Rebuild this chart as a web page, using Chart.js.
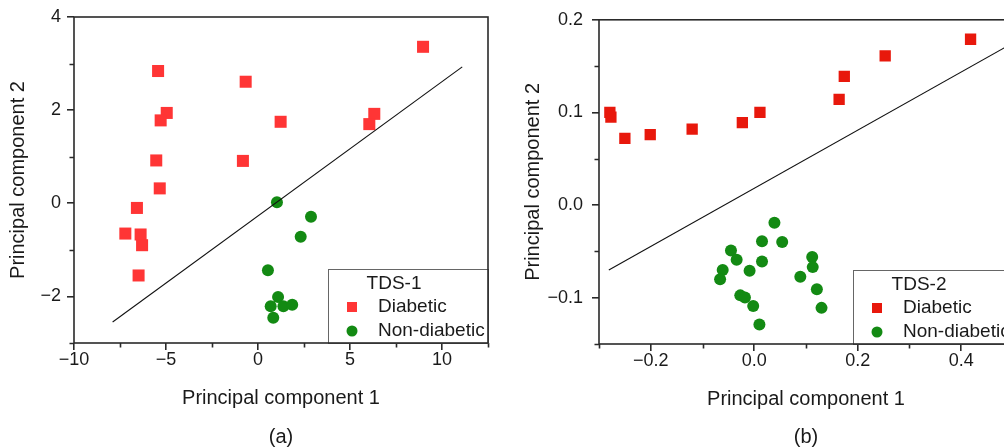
<!DOCTYPE html>
<html>
<head>
<meta charset="utf-8">
<script src="https://cdn.jsdelivr.net/npm/chart.js@4.4.1/dist/chart.umd.min.js"></script>
<style>
  html, body { margin:0; padding:0; width:1004px; height:447px; overflow:hidden; background:#fff; }
  .panel { position:absolute; top:0; }
  .cap { position:absolute; font-family:"Liberation Sans", Arial, sans-serif; font-size:20px; color:#1a1a1a; transform:translate(-50%,-50%); white-space:nowrap; }
</style>
</head>
<body>
<canvas id="ca" class="panel" width="510" height="447" style="left:0px;"></canvas>
<canvas id="cb" class="panel" width="520" height="447" style="left:520px;"></canvas>
<div class="cap" style="left:281px; top:436px;">(a)</div>
<div class="cap" style="left:806px; top:436px;">(b)</div>
<script>
// ---------- data: panel (a) TDS-1 ----------
const A_DIAB_X = [8.97, -5.43, -0.67, -4.96, -5.29, 1.23, 6.32, 6.05, -5.53, -0.82, -5.34, -6.58, -7.21, -6.38, -6.30, -6.49];
const A_DIAB_Y = [3.36, 2.84, 2.61, 1.94, 1.78, 1.75, 1.92, 1.70, 0.92, 0.91, 0.32, -0.10, -0.65, -0.67, -0.90, -1.55];
const A_NON_X = [1.03, 2.88, 2.32, 0.54, 1.09, 0.69, 1.38, 1.86, 0.83];
const A_NON_Y = [0.02, -0.29, -0.72, -1.44, -2.01, -2.21, -2.21, -2.18, -2.46];
const A_LINE_X = [-7.9, 11.1];
const A_LINE_Y = [-2.55, 2.93];
const A_X_TICKS = [-10, -5, 0, 5, 10];
const A_X_MINOR = [-7.5, -2.5, 2.5, 7.5, 12.5];
const A_Y_TICKS = [-2, 0, 2, 4];
const A_Y_MINOR = [-3, -1, 1, 3];

// ---------- data: panel (b) TDS-2 ----------
const B_DIAB_X = [-0.279, -0.277, -0.250, -0.201, -0.120, -0.023, 0.011, 0.164, 0.174, 0.253, 0.418];
const B_DIAB_Y = [0.100, 0.095, 0.072, 0.076, 0.082, 0.089, 0.100, 0.114, 0.139, 0.161, 0.179];
const B_NON_X = [0.039, 0.015, 0.054, -0.045, -0.034, 0.015, 0.112, 0.113, -0.061, -0.066, -0.009, 0.089, 0.121, -0.027, -0.018, -0.002, 0.130, 0.010];
const B_NON_Y = [-0.019, -0.039, -0.040, -0.049, -0.059, -0.061, -0.056, -0.067, -0.070, -0.080, -0.071, -0.0775, -0.091, -0.0975, -0.0997, -0.109, -0.111, -0.129];
const B_LINE_X = [-0.281, 0.5];
const B_LINE_Y = [-0.070, 0.175];
const B_X_TICKS = [-0.2, 0.0, 0.2, 0.4];
const B_X_MINOR = [-0.3, -0.1, 0.1, 0.3, 0.5];
const B_Y_TICKS = [-0.1, 0.0, 0.1, 0.2];
const B_Y_MINOR = [-0.15, -0.05, 0.05, 0.15];

const SERIES_NAMES = ['Diabetic', 'Non-diabetic'];

const FONT = '"Liberation Sans", Arial, sans-serif';
const INK = '#1a1a1a';
const GREEN = '#138a13';

const pts = (xs, ys) => xs.map((x, i) => ({x, y: ys[i]}));
const fmtMinus = s => s.replace('-', '\u2212');

// box + minor ticks + inset legend
const framePlugin = {
  id: 'frame',
  afterDraw(chart, args, o) {
    const {ctx, chartArea: a, scales} = chart;
    ctx.save();
    ctx.strokeStyle = '#2a2a2a';
    ctx.lineWidth = 1.6;
    // minor ticks
    ctx.beginPath();
    o.xMinor.forEach(v => {
      const px = Math.round(scales.x.getPixelForValue(v)) + 0.5;
      ctx.moveTo(px, a.bottom); ctx.lineTo(px, a.bottom + 4.5);
    });
    o.yMinor.forEach(v => {
      const py = Math.round(scales.y.getPixelForValue(v)) + 0.5;
      ctx.moveTo(a.left, py); ctx.lineTo(a.left - 4.5, py);
    });
    ctx.stroke();
    // legend box
    const w = 160, h = 74;
    const L = a.right - w, T = a.bottom - h;
    ctx.fillStyle = '#fff';
    ctx.fillRect(L, T, w, h);
    ctx.lineWidth = 1;
    ctx.strokeStyle = '#666';
    ctx.strokeRect(L + 0.5, T + 0.5, w, h);
    ctx.fillStyle = INK;
    ctx.font = '19px ' + FONT;
    ctx.textBaseline = 'middle';
    ctx.textAlign = 'center';
    ctx.fillText(o.title, L + 66, T + 15);
    ctx.textAlign = 'left';
    ctx.fillText(SERIES_NAMES[0], L + 50, T + 38);
    ctx.fillText(SERIES_NAMES[1], L + 50, T + 62);
    ctx.fillStyle = o.red;
    ctx.fillRect(L + 24 - 5, T + 38 - 5, 10, 10);
    ctx.fillStyle = GREEN;
    ctx.beginPath(); ctx.arc(L + 24, T + 62, 5.5, 0, Math.PI * 2); ctx.fill();
    // frame
    ctx.lineWidth = 1.6;
    ctx.strokeStyle = '#2a2a2a';
    ctx.strokeRect(a.left, a.top, a.right - a.left, a.bottom - a.top);
    ctx.restore();
  }
};

function makeChart(id, cfg) {
  const tickFont = {family: FONT, size: 18};
  const titleFont = {family: FONT, size: 20};
  const grid = {drawOnChartArea: false, drawTicks: true, tickLength: 7, color: '#2a2a2a', lineWidth: 1.6};
  return new Chart(document.getElementById(id), {
    type: 'scatter',
    data: {
      datasets: [
        {label: 'line', data: pts(cfg.lineX, cfg.lineY), showLine: true, borderColor: '#111', borderWidth: 1.1, pointRadius: 0, fill: false},
        {label: SERIES_NAMES[0], data: pts(cfg.diabX, cfg.diabY), pointStyle: 'rect', pointRadius: cfg.sqR, backgroundColor: cfg.red, borderWidth: 0},
        {label: SERIES_NAMES[1], data: pts(cfg.nonX, cfg.nonY), pointStyle: 'circle', pointRadius: 6, backgroundColor: GREEN, borderWidth: 0}
      ]
    },
    options: {
      responsive: false,
      animation: false,
      devicePixelRatio: 1,
      layout: {padding: cfg.padding},
      plugins: {
        legend: {display: false},
        tooltip: {enabled: false},
        frame: {xMinor: cfg.xMinor, yMinor: cfg.yMinor, title: cfg.legendTitle, red: cfg.red}
      },
      scales: {
        x: {
          type: 'linear', min: cfg.xMin, max: cfg.xMax,
          afterBuildTicks: s => { s.ticks = cfg.xTicks.map(v => ({value: v})); },
          afterFit: s => { s.height = cfg.xH; },
          ticks: {font: tickFont, color: INK, padding: -1, maxRotation: 0, autoSkip: false,
                  callback: v => fmtMinus(cfg.fmt(v))},
          grid, border: {display: false},
          title: {display: true, text: 'Principal component 1', font: titleFont, color: INK, padding: {top: 0, bottom: 0}}
        },
        y: {
          type: 'linear', min: cfg.yMin, max: cfg.yMax,
          afterBuildTicks: s => { s.ticks = cfg.yTicks.map(v => ({value: v})); },
          afterFit: s => { s.width = cfg.yW; },
          ticks: {font: tickFont, color: INK, padding: cfg.yPad, autoSkip: false,
                  callback: v => fmtMinus(cfg.fmt(v))},
          grid, border: {display: false},
          title: {display: true, text: 'Principal component 2', font: titleFont, color: INK, padding: {top: cfg.yTitlePad, bottom: 0}}
        }
      }
    },
    plugins: [framePlugin]
  });
}

makeChart('ca', {
  diabX: A_DIAB_X, diabY: A_DIAB_Y, nonX: A_NON_X, nonY: A_NON_Y, lineX: A_LINE_X, lineY: A_LINE_Y,
  xTicks: A_X_TICKS, yTicks: A_Y_TICKS, xMinor: A_X_MINOR, yMinor: A_Y_MINOR,
  xMin: -10, xMax: 12.5, yMin: -3, yMax: 4,
  fmt: v => String(Math.round(v)),
  red: '#ff3535', sqR: 8.5, legendTitle: 'TDS-1',
  padding: {top: 17, right: 22, bottom: 37, left: 0},
  xH: 67, yW: 74, yPad: 6, yTitlePad: 6
});

makeChart('cb', {
  diabX: B_DIAB_X, diabY: B_DIAB_Y, nonX: B_NON_X, nonY: B_NON_Y, lineX: B_LINE_X, lineY: B_LINE_Y,
  xTicks: B_X_TICKS, yTicks: B_Y_TICKS, xMinor: B_X_MINOR, yMinor: B_Y_MINOR,
  xMin: -0.3, xMax: 0.5, yMin: -0.15, yMax: 0.2,
  fmt: v => (Math.abs(v) < 1e-9 ? 0 : v).toFixed(1),
  red: '#e8180c', sqR: 8, legendTitle: 'TDS-2',
  padding: {top: 18, right: 27, bottom: 36, left: 0},
  xH: 67, yW: 79, yPad: 9, yTitlePad: 1
});
</script>
</body>
</html>
